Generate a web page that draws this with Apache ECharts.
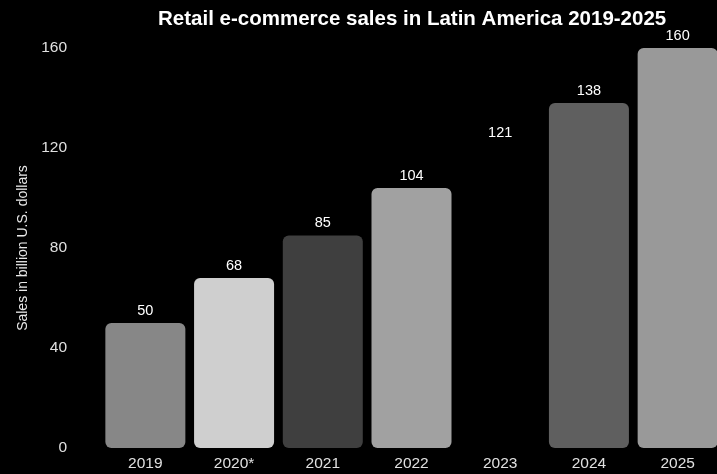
<!DOCTYPE html>
<html>
<head>
<meta charset="utf-8">
<script src="https://cdn.jsdelivr.net/npm/echarts@6/dist/echarts.min.js"></script>
<style>
  html, body { margin: 0; padding: 0; background: #000; }
  #chart { width: 717px; height: 474px; }
</style>
</head>
<body>
<div id="chart"></div>
<script>
// Years shown on the category axis
const years = ['2019', '2020*', '2021', '2022', '2023', '2024', '2025'];
// Retail e-commerce sales, billion U.S. dollars
const sales = [50, 68, 85, 104, 121, 138, 160];
// Fill of each bar
const barColors = ['#878787', '#cfcfcf', '#3f3f3f', '#a1a1a1', '#000000', '#5f5f5f', '#999999'];
// Value axis ticks
const yTicks = [0, 40, 80, 120, 160];

const FONT = 'Liberation Sans, Arial, sans-serif';

const chart = echarts.init(document.getElementById('chart'));
chart.setOption({
  backgroundColor: '#000',
  animation: false,
  title: {
    text: 'Retail e-commerce sales in Latin America 2019-2025',
    left: 153,
    top: 4,
    textStyle: {
      color: '#fff',
      fontSize: 20.5,
      fontWeight: 'bold',
      fontFamily: FONT
    }
  },
  // the last bar runs slightly past the right edge of the canvas
  grid: { left: 101, right: -5, top: 48, bottom: 26, containLabel: false, outerBoundsMode: 'none' },
  xAxis: {
    type: 'category',
    data: years,
    axisLine: { show: false },
    axisTick: { show: false },
    axisLabel: {
      color: '#e0e0e0',
      fontSize: 15.5,
      margin: 8,
      fontFamily: FONT
    }
  },
  yAxis: {
    type: 'value',
    min: yTicks[0],
    max: yTicks[yTicks.length - 1],
    interval: 40,
    name: 'Sales in billion U.S. dollars',
    nameLocation: 'middle',
    nameGap: 63,
    nameTextStyle: {
      color: '#e8e8e8',
      fontSize: 14,
      fontFamily: FONT
    },
    splitLine: { show: false },
    axisLine: { show: false },
    axisTick: { show: false },
    axisLabel: {
      color: '#e0e0e0',
      fontSize: 15.5,
      margin: 34,
      fontFamily: FONT
    }
  },
  series: [{
    type: 'bar',
    barWidth: 80,
    data: sales.map((v, i) => ({ value: v, itemStyle: { color: barColors[i] } })),
    itemStyle: { borderRadius: 6 },
    label: {
      show: true,
      position: 'top',
      distance: 5,
      color: '#fff',
      fontSize: 14.5,
      fontFamily: FONT
    }
  }]
});
</script>
</body>
</html>
